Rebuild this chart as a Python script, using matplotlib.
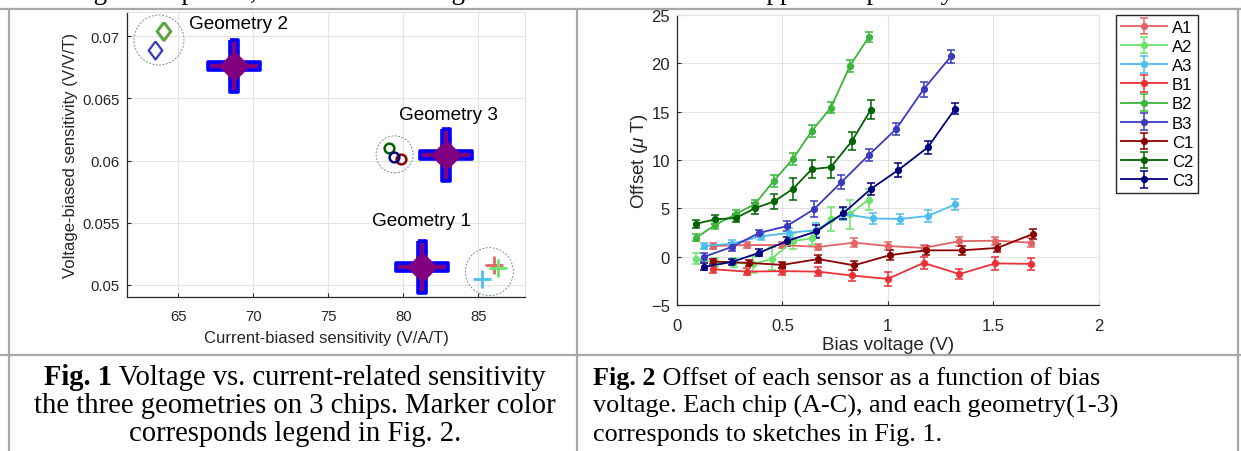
import matplotlib
matplotlib.use("Agg")
import matplotlib.pyplot as plt
from matplotlib.patches import Circle
from matplotlib.lines import Line2D
from matplotlib.transforms import ScaledTranslation

plt.rcParams['font.family'] = ['Liberation Sans', 'DejaVu Sans']
plt.rcParams['mathtext.fontset'] = 'custom'
plt.rcParams['mathtext.it'] = 'Liberation Sans:italic'
plt.rcParams['mathtext.rm'] = 'Liberation Sans'

W, H = 1241, 452
fig = plt.figure(figsize=(W / 100, H / 100), dpi=100)
fig.patch.set_facecolor('white')

# ---------- Fig. 1 data ----------
geo_names = ['Geometry 1', 'Geometry 2', 'Geometry 3']
geo_x = [81.23, 68.71, 82.87]
geo_y = [0.05143, 0.06763, 0.06044]

# small markers per geometry (colour follows legend of Fig. 2)
g1_x = [86.03, 86.32, 85.24]
g1_y = [0.05164, 0.05135, 0.05048]
g1_c = ['#e36464', '#6be36b', '#4dbeee']

g2_x = [64.05, 63.98, 63.44]
g2_y = [0.07045, 0.07040, 0.06892]
g2_c = ['#e36464', '#3bb53b', '#3a3abf']

g3_x = [79.06, 79.87, 79.38]
g3_y = [0.06098, 0.06012, 0.06031]
g3_c = ['#006400', '#8b0000', '#00007f']

# dashed circles round each cluster (centre, radius in px)
ring_x = [85.73, 63.73, 79.42]
ring_y = [0.05107, 0.06970, 0.06050]
ring_r = [24, 25, 18.5]

# ---------- Fig. 2 data ----------
names = ['A1', 'A2', 'A3', 'B1', 'B2', 'B3', 'C1', 'C2', 'C3']
colors = ['#e36464', '#6be36b', '#4dbeee', '#ec3237', '#3bb53b',
          '#3a3abf', '#8b0000', '#006400', '#00007f']

A1_v = [0.17, 0.33, 0.50, 0.67, 0.84, 1.00, 1.17, 1.34, 1.51, 1.68]
A1 = [1.1, 1.2, 1.2, 1.0, 1.45, 1.1, 0.9, 1.6, 1.65, 1.45]
A1_e = [0.3, 0.3, 0.3, 0.35, 0.45, 0.4, 0.35, 0.45, 0.4, 0.5]

A2_v = [0.09, 0.18, 0.27, 0.36, 0.45, 0.55, 0.64, 0.73, 0.82, 0.91]
A2 = [-0.2, -0.6, -0.6, -0.8, -0.2, 1.6, 1.9, 3.9, 4.4, 5.9]
A2_e = [0.6, 0.5, 0.5, 0.9, 1.2, 0.8, 0.7, 1.2, 1.5, 1.1]

A3_v = [0.13, 0.26, 0.40, 0.53, 0.66, 0.79, 0.93, 1.06, 1.19, 1.32]
A3 = [1.1, 1.35, 2.1, 2.45, 2.75, 4.4, 3.95, 3.9, 4.2, 5.4]
A3_e = [0.35, 0.35, 0.35, 0.5, 0.7, 0.6, 0.6, 0.55, 0.6, 0.6]

B1_v = [0.17, 0.33, 0.50, 0.67, 0.83, 1.00, 1.17, 1.34, 1.51, 1.68]
B1 = [-1.3, -1.55, -1.5, -1.55, -1.95, -2.3, -0.65, -1.8, -0.7, -0.75]
B1_e = [0.35, 0.35, 0.35, 0.45, 0.55, 0.7, 0.6, 0.55, 0.65, 0.65]

B2_v = [0.09, 0.18, 0.28, 0.37, 0.46, 0.55, 0.64, 0.73, 0.82, 0.91]
B2 = [1.95, 3.25, 4.4, 5.45, 7.85, 10.1, 13.0, 15.4, 19.7, 22.7]
B2_e = [0.35, 0.4, 0.4, 0.45, 0.6, 0.6, 0.6, 0.55, 0.6, 0.5]

B3_v = [0.13, 0.26, 0.39, 0.52, 0.65, 0.78, 0.91, 1.04, 1.17, 1.30]
B3 = [0.0, 1.0, 2.45, 3.15, 4.9, 7.7, 10.5, 13.2, 17.3, 20.7]
B3_e = [0.4, 0.4, 0.35, 0.5, 0.8, 0.7, 0.6, 0.6, 0.75, 0.7]

C1_v = [0.17, 0.34, 0.50, 0.67, 0.84, 1.01, 1.18, 1.35, 1.52, 1.69]
C1 = [-0.5, -0.65, -0.85, -0.25, -0.9, 0.15, 0.65, 0.65, 0.9, 2.35]
C1_e = [0.3, 0.3, 0.3, 0.4, 0.5, 0.5, 0.5, 0.5, 0.45, 0.5]

C2_v = [0.09, 0.18, 0.28, 0.37, 0.46, 0.55, 0.64, 0.73, 0.83, 0.92]
C2 = [3.4, 3.85, 4.0, 5.0, 5.7, 7.0, 9.05, 9.25, 11.95, 15.2]
C2_e = [0.4, 0.45, 0.4, 0.55, 0.8, 1.1, 0.9, 1.1, 0.9, 1.0]

C3_v = [0.13, 0.26, 0.39, 0.52, 0.66, 0.79, 0.92, 1.05, 1.19, 1.32]
C3 = [-1.05, -0.55, 0.4, 1.6, 2.6, 4.5, 7.0, 8.95, 11.3, 15.3]
C3_e = [0.35, 0.35, 0.35, 0.45, 0.7, 0.6, 0.6, 0.7, 0.7, 0.6]

series = [(A1_v, A1, A1_e), (A2_v, A2, A2_e), (A3_v, A3, A3_e),
          (B1_v, B1, B1_e), (B2_v, B2, B2_e), (B3_v, B3, B3_e),
          (C1_v, C1, C1_e), (C2_v, C2, C2_e), (C3_v, C3, C3_e)]

captions_left = [('Fig. 1', ' Voltage vs. current-related sensitivity'),
                 ('', 'the three geometries on 3 chips. Marker color'),
                 ('', 'corresponds legend in Fig. 2.')]
captions_right = [('Fig. 2', ' Offset of each sensor as a function of bias'),
                  ('', 'voltage. Each chip (A-C), and each geometry(1-3)'),
                  ('', 'corresponds to sketches in Fig. 1.')]

# words of the paragraph line above the table, cut off by the page top
top_words = [('along', 107), ('up', 196), ('on,', 257), ('long', 466),
             ('upper', 815), ('up', 881), ('by', 955)]

TXT = '#262626'
GRID = '#e3e3e3'


def px_axes(x0, y0, x1, y1):
    return fig.add_axes([x0 / W, 1 - y1 / H, (x1 - x0) / W, (y1 - y0) / H])


def matlab_style(ax, fs, xpad, ypad):
    ax.grid(True, color=GRID, lw=0.8)
    ax.set_axisbelow(True)
    for s in ['left', 'bottom']:
        ax.spines[s].set_color(TXT)
        ax.spines[s].set_linewidth(0.9)
    for s in ['top', 'right']:
        ax.spines[s].set_color(GRID)
        ax.spines[s].set_linewidth(0.8)
    ax.tick_params(direction='in', length=3, width=0.8, colors=TXT,
                   labelsize=fs, top=False, right=False)
    ax.tick_params(axis='x', pad=xpad)
    ax.tick_params(axis='y', pad=ypad)


# ---------- left chart ----------
ax1 = px_axes(127, 13.3, 525.4, 298)
matlab_style(ax1, 10.7, 8.5, 5.5)
ax1.set_xlim(61.6, 88.13)
ax1.set_ylim(0.04903, 0.07193)
ax1.set_xticks([65, 70, 75, 80, 85])
ax1.set_yticks([0.05, 0.055, 0.06, 0.065, 0.07])
ax1.set_yticklabels(['0.05', '0.055', '0.06', '0.065', '0.07'])
ax1.set_xlabel('Current-biased sensitivity (V/A/T)', fontsize=12, color=TXT, labelpad=5)
ax1.set_ylabel('Voltage-biased sensitivity (V/V/T)', fontsize=12, color=TXT, labelpad=3)

a = 0.17
plus_path = [(-a, 1), (a, 1), (a, a), (1, a), (1, -a), (a, -a), (a, -1), (-a, -1),
             (-a, -a), (-1, -a), (-1, a), (-a, a), (-a, 1)]
diamond = [(0, 1), (1, 0), (0, -1), (-1, 0), (0, 1)]
thin_diamond = [(0, 1), (0.75, 0), (0, -1), (-0.75, 0), (0, 1)]

ax1.plot(geo_x, geo_y, ls='none', marker=plus_path, ms=37, mfc='#800080',
         mec='#0000ff', mew=2.6, zorder=4)
ax1.plot(geo_x, geo_y, ls='none', marker=diamond, ms=22, mfc='#800080',
         mec='#800080', mew=0.5, zorder=5)

for x, y, c in zip(g1_x, g1_y, g1_c):
    ax1.plot(x, y, ls='none', marker='+', ms=13.5, mec=c, mew=2.0, zorder=4)
for x, y, c in zip(g2_x, g2_y, g2_c):
    ax1.plot(x, y, ls='none', marker=thin_diamond, ms=13, mfc='none', mec=c, mew=1.6, zorder=4)
for x, y, c in zip(g3_x, g3_y, g3_c):
    ax1.plot(x, y, ls='none', marker='o', ms=7, mfc='none', mec=c, mew=1.8, zorder=4)

for x, y, r in zip(ring_x, ring_y, ring_r):
    circ = Circle((0, 0), r / 100, fill=False, ec='#7f8c99', lw=0.7, ls=(0, (2, 1.6)),
                  transform=fig.dpi_scale_trans + ScaledTranslation(x, y, ax1.transData),
                  zorder=3)
    ax1.add_artist(circ)

label_off = [(-50, 46.6), (-45, 42.7), (-47, 41)]
for name, x, y, off in zip(geo_names, geo_x, geo_y, label_off):
    ax1.annotate(name, (x, y), xytext=off, textcoords='offset pixels',
                 ha='left', va='center', fontsize=13.7, color='black', zorder=6)

# ---------- right chart ----------
ax2 = px_axes(677, 15.8, 1098.5, 306)
matlab_style(ax2, 12, 9.5, 5)
ax2.set_xlim(0, 2)
ax2.set_ylim(-5, 25)
ax2.set_xticks([0, 0.5, 1, 1.5, 2])
ax2.set_xticklabels(['0', '0.5', '1', '1.5', '2'])
ax2.set_yticks([-5, 0, 5, 10, 15, 20, 25])
ax2.set_xlabel('Bias voltage (V)', fontsize=13.5, color=TXT, labelpad=2)
ax2.set_ylabel(r'Offset ($\mu$ T)', fontsize=13.5, color=TXT, labelpad=1)

for (v, y, e), c, n in zip(series, colors, names):
    ax2.errorbar(v, y, yerr=e, color=c, marker='o', ms=4.2, lw=1.3,
                 elinewidth=1.1, capsize=2.6, capthick=1.1, label=n, zorder=3)

leg = ax2.legend(loc='upper left', bbox_to_anchor=(1116 / W, 1 - 15.8 / H),
                 bbox_transform=fig.transFigure, borderaxespad=0, fontsize=12,
                 handlelength=2.75, handletextpad=0.3, labelspacing=0.25,
                 borderpad=0.3, fancybox=False, framealpha=1)
leg.get_frame().set_edgecolor('#262626')
leg.get_frame().set_linewidth(1.0)

# ---------- table lines ----------
LINE = '#a8a8a8'
for y in [10, 356]:
    fig.add_artist(Line2D([0, 1], [1 - y / H, 1 - y / H], transform=fig.transFigure,
                          color=LINE, lw=1.6))
for x in [9, 577, 1238]:
    fig.add_artist(Line2D([x / W, x / W], [0, 1 - 10 / H], transform=fig.transFigure,
                          color=LINE, lw=1.6))

# ---------- captions ----------
renderer = fig.canvas.get_renderer()
base_y = [385, 413, 441]
SERIF = 'Liberation Serif'


def caption(x, y, bold, rest, centred, size):
    tb = fig.text(0, 0, bold, fontsize=size, family=SERIF, weight='bold')
    tn = fig.text(0, 0, rest, fontsize=size, family=SERIF)
    wb = tb.get_window_extent(renderer).width if bold else 0
    wn = tn.get_window_extent(renderer).width
    x0 = x - (wb + wn) / 2 if centred else x
    tb.set_position((x0 / W, 1 - y / H))
    tn.set_position(((x0 + wb) / W, 1 - y / H))
    tb.set_va('baseline')
    tn.set_va('baseline')


for (b, r), y in zip(captions_left, base_y):
    caption(295, y, b, r, True, 20.6)
for (b, r), y in zip(captions_right, base_y):
    caption(593, y, b, r, False, 18.8)

for word, xr in top_words:
    fig.text(xr / W, 1 + 1 / H, word, fontsize=19.5, family=SERIF,
             ha='right', va='baseline')

fig.savefig('out.png', dpi=100)
